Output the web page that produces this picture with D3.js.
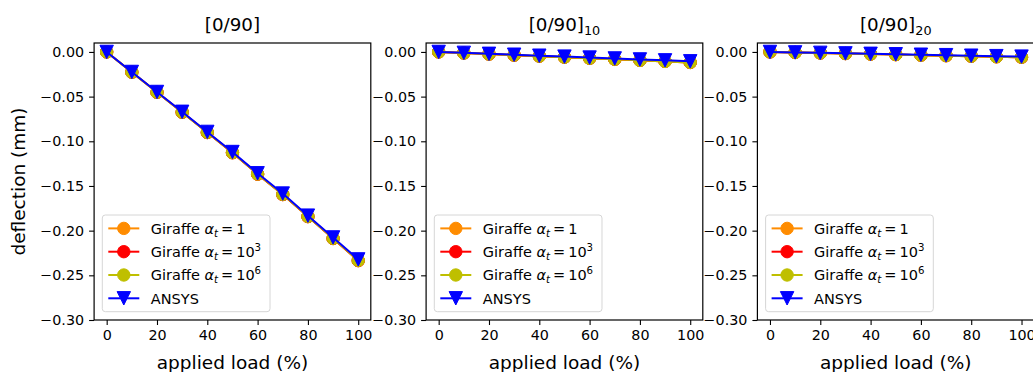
<!DOCTYPE html>
<html>
<head>
<meta charset="utf-8">
<script src="https://cdn.jsdelivr.net/npm/d3@7"></script>
<style>
  body { margin: 0; background: #fff; }
  svg { font-family: "DejaVu Sans", sans-serif; }
</style>
</head>
<body>
<svg id="chart" width="1033" height="372"></svg>
<script>
// data
const loads = [0, 10, 20, 30, 40, 50, 60, 70, 80, 90, 100];
const xTicks = [0, 20, 40, 60, 80, 100];
const yTicks = [0, -0.05, -0.10, -0.15, -0.20, -0.25, -0.30];

const panelTitles = ["[0/90]", "[0/90]", "[0/90]"];
const panelSubscripts = ["", "10", "20"];

const seriesNames = ["alpha1", "alpha1e3", "alpha1e6", "ANSYS"];
const seriesColors = ["#ff8c00", "#ff0000", "#bfbf00", "#0000ff"];

// [0/90]
const p1Giraffe1   = [0, -0.0227, -0.0452, -0.0675, -0.0902, -0.1128, -0.1368, -0.1596, -0.1843, -0.2088, -0.2336];
const p1Giraffe1e3 = [0, -0.0227, -0.0452, -0.0675, -0.0902, -0.1128, -0.1368, -0.1596, -0.1843, -0.2088, -0.2335];
const p1Giraffe1e6 = [0, -0.0226, -0.0451, -0.0674, -0.0900, -0.1126, -0.1366, -0.1594, -0.1841, -0.2086, -0.2333];
const p1Ansys      = [0, -0.0224, -0.0448, -0.0670, -0.0895, -0.1120, -0.1358, -0.1585, -0.1832, -0.2076, -0.2322];

// [0/90]_10
const p2Giraffe1   = [0, -0.0012, -0.0024, -0.0036, -0.0047, -0.0059, -0.0071, -0.0083, -0.0094, -0.0106, -0.0118];
const p2Giraffe1e3 = [0, -0.0012, -0.0024, -0.0036, -0.0047, -0.0059, -0.0071, -0.0083, -0.0094, -0.0106, -0.0118];
const p2Giraffe1e6 = [0, -0.0012, -0.0024, -0.0035, -0.0047, -0.0059, -0.0071, -0.0082, -0.0094, -0.0106, -0.0117];
const p2Ansys      = [0, -0.0010, -0.0021, -0.0031, -0.0042, -0.0052, -0.0063, -0.0073, -0.0084, -0.0094, -0.0105];

// [0/90]_20
const p3Giraffe1   = [0, -0.0006, -0.0012, -0.0018, -0.0024, -0.0030, -0.0036, -0.0042, -0.0048, -0.0054, -0.0060];
const p3Giraffe1e3 = [0, -0.0006, -0.0012, -0.0018, -0.0024, -0.0030, -0.0036, -0.0042, -0.0048, -0.0054, -0.0060];
const p3Giraffe1e6 = [0, -0.0006, -0.0012, -0.0018, -0.0024, -0.0030, -0.0036, -0.0042, -0.0048, -0.0054, -0.0059];
const p3Ansys      = [0, -0.0005, -0.0010, -0.0016, -0.0021, -0.0026, -0.0031, -0.0036, -0.0042, -0.0047, -0.0052];

const panelSeries = [
    [p1Giraffe1, p1Giraffe1e3, p1Giraffe1e6, p1Ansys],
    [p2Giraffe1, p2Giraffe1e3, p2Giraffe1e6, p2Ansys],
    [p3Giraffe1, p3Giraffe1e3, p3Giraffe1e6, p3Ansys]
];

const svg = d3.select("#chart");
const panelLefts = [94.1, 426.1, 757.4];
const panelWidth = 276.7;
const axTop = 43;
const axBottom = 320;
const circleR = 6.2;
const triHalf = 6.7;

panelSeries.forEach((series, i) => drawPanel(i, series));

// y label on first panel only
svg.append("text")
    .attr("transform", "translate(24.5,181.5) rotate(-90)")
    .attr("text-anchor", "middle")
    .style("font-size", "18.5px")
    .text("deflection (mm)");

function drawPanel(i, series) {
    const left = panelLefts[i];
    const right = left + panelWidth;

    const x = d3.scaleLinear().domain([-5, 105]).range([left, right]);
    const y = d3.scaleLinear().domain([-0.30, 0.01]).range([axBottom, axTop]);

    const g = svg.append("g");

    // lines + markers, drawn in legend order
    const line = d3.line()
        .x((d, k) => x(loads[k]))
        .y(d => y(d));

    series.forEach((vals, s) => {
        const color = seriesColors[s];
        g.append("path")
            .datum(vals)
            .attr("fill", "none")
            .attr("stroke", color)
            .attr("stroke-width", 2)
            .attr("d", line);
        drawMarkers(g, vals.map((v, k) => [x(loads[k]), y(v)]), s);
    });

    // axes
    const xAxis = g.append("g")
        .attr("transform", `translate(0,${axBottom})`)
        .call(d3.axisBottom(x).tickValues(xTicks).tickSize(5).tickPadding(5));
    const yAxis = g.append("g")
        .attr("transform", `translate(${left},0)`)
        .call(d3.axisLeft(y).tickValues(yTicks).tickFormat(d3.format(".2f")).tickSize(5).tickPadding(5));

    [xAxis, yAxis].forEach(a => {
        a.select(".domain").remove();
        a.attr("font-family", null).attr("font-size", null);
        a.selectAll("text").style("font-size", "14.3px").attr("fill", "#000");
        a.selectAll("line").attr("stroke", "#000").attr("stroke-width", 1.1);
    });

    // frame
    g.append("rect")
        .attr("x", left)
        .attr("y", axTop)
        .attr("width", panelWidth)
        .attr("height", axBottom - axTop)
        .attr("fill", "none")
        .attr("stroke", "#000")
        .attr("stroke-width", 1.2);

    // title
    const title = g.append("text")
        .attr("x", (left + right) / 2)
        .attr("y", 31)
        .attr("text-anchor", "middle")
        .style("font-size", "18.3px")
        .text(panelTitles[i]);
    if (panelSubscripts[i]) {
        title.append("tspan")
            .attr("dy", 4)
            .style("font-size", "12.8px")
            .text(panelSubscripts[i]);
    }

    // x label
    g.append("text")
        .attr("x", (left + right) / 2)
        .attr("y", 369)
        .attr("text-anchor", "middle")
        .style("font-size", "18.5px")
        .text("applied load (%)");

    drawLegend(g, left + 8.2, 215);
}

function drawMarkers(g, pts, s) {
    const color = seriesColors[s];
    if (s === 3) {
        const h = triHalf;
        g.selectAll(null)
            .data(pts)
            .enter()
            .append("path")
            .attr("d", d => `M${d[0] - h},${d[1] - h}L${d[0] + h},${d[1] - h}L${d[0]},${d[1] + h}Z`)
            .attr("fill", color)
            .attr("stroke", color)
            .attr("stroke-width", 1);
    } else {
        g.selectAll(null)
            .data(pts)
            .enter()
            .append("circle")
            .attr("cx", d => d[0])
            .attr("cy", d => d[1])
            .attr("r", circleR)
            .attr("fill", color)
            .attr("stroke", color)
            .attr("stroke-width", 1);
    }
}

function drawLegend(g, lx, ly) {
    const legend = g.append("g").attr("transform", `translate(${lx},${ly})`);

    legend.append("rect")
        .attr("x", 0)
        .attr("y", 0)
        .attr("width", 167.7)
        .attr("height", 96.7)
        .attr("rx", 3)
        .attr("fill", "#fff")
        .attr("fill-opacity", 0.8)
        .attr("stroke", "#d6d6d6")
        .attr("stroke-width", 1);

    const exps = ["", "3", "6"];

    seriesNames.forEach((name, s) => {
        const cy = 13.4 + s * 23.3;
        const color = seriesColors[s];
        legend.append("line")
            .attr("x1", 6).attr("x2", 37)
            .attr("y1", cy).attr("y2", cy)
            .attr("stroke", color)
            .attr("stroke-width", 2);
        drawMarkers(legend, [[21.5, cy]], s);

        const t = legend.append("text")
            .attr("x", 48.5)
            .attr("y", cy + 5.2)
            .style("font-size", "14.5px");
        if (s === 3) {
            t.text("ANSYS");
            return;
        }
        t.append("tspan").text("Giraffe ");
        t.append("tspan").style("font-style", "italic").text("\u03b1");
        t.append("tspan").attr("dy", 3).style("font-style", "italic").style("font-size", "10.2px").text("t");
        t.append("tspan").attr("dy", -3).attr("dx", 3).text("=");
        if (s === 0) {
            t.append("tspan").attr("dx", 3).text("1");
        } else {
            t.append("tspan").attr("dx", 3).text("10");
            t.append("tspan").attr("dy", -6).style("font-size", "10.2px").text(exps[s]);
        }
    });
}
</script>
</body>
</html>
